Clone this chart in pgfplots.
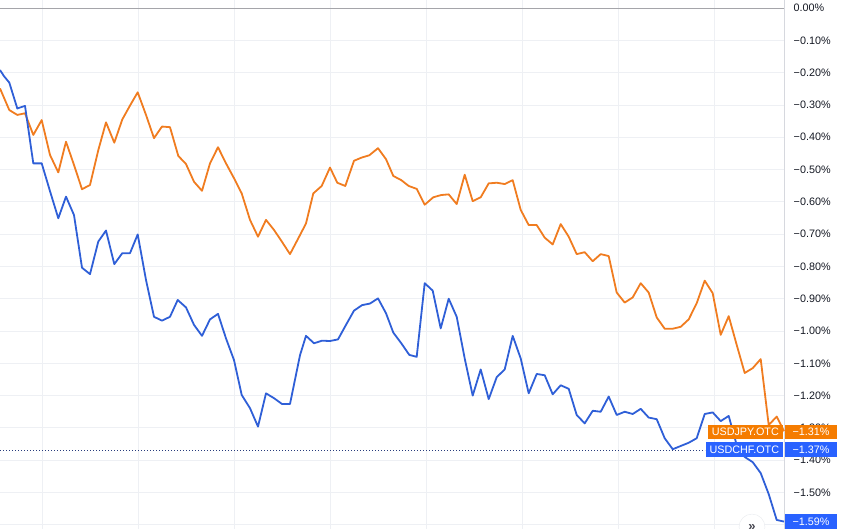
\documentclass[border=0pt]{standalone}
\usepackage{fontspec}
\setmainfont{Liberation Sans}
\usepackage{pgfplots}
\usepackage{pgfplotstable}
\pgfplotsset{compat=1.18}
\definecolor{orangeL}{RGB}{240,124,32}
\definecolor{blueL}{RGB}{47,95,215}
\definecolor{orangeBox}{RGB}{245,124,0}
\definecolor{blueBox}{RGB}{41,98,255}
\definecolor{gridc}{RGB}{238,240,244}
\definecolor{txt}{RGB}{19,23,34}

\pgfplotstableread{
x y
0 -0.249
9.3 -0.316
17.3 -0.331
25 -0.326
33.3 -0.393
41.7 -0.347
50 -0.455
58.3 -0.509
66 -0.414
74 -0.486
82 -0.561
90 -0.548
98.3 -0.440
106 -0.354
114.3 -0.417
122.3 -0.345
130 -0.302
137.7 -0.261
146 -0.331
154 -0.403
162 -0.367
170 -0.369
178.3 -0.458
186 -0.483
194 -0.538
202 -0.566
210 -0.481
218 -0.431
226 -0.481
234 -0.527
241.7 -0.574
250 -0.656
258 -0.708
266 -0.656
274 -0.687
282 -0.724
290 -0.762
300 -0.703
306 -0.667
313.3 -0.574
321.7 -0.551
330 -0.494
337.3 -0.541
345.3 -0.551
354 -0.473
361.7 -0.463
369.3 -0.456
378 -0.434
386 -0.468
393.3 -0.520
401.3 -0.533
408.7 -0.551
416.7 -0.560
424.7 -0.609
433.3 -0.586
441.3 -0.579
448.7 -0.577
456.7 -0.607
464.7 -0.516
472.7 -0.598
480.7 -0.586
488.7 -0.543
496.7 -0.541
504.7 -0.545
512.7 -0.533
520.7 -0.625
528.7 -0.672
536.7 -0.672
544.7 -0.711
552.7 -0.732
560.7 -0.669
568.7 -0.708
576.7 -0.762
584.7 -0.756
592.7 -0.784
600.7 -0.762
608.7 -0.768
616.7 -0.881
624.7 -0.912
632.7 -0.896
640.7 -0.852
648.7 -0.881
656.7 -0.958
664.7 -0.993
672.7 -0.993
680.7 -0.987
688.7 -0.964
696.7 -0.914
704.7 -0.844
712.7 -0.883
720.7 -1.012
728.7 -0.954
736.7 -1.043
744.7 -1.130
752.7 -1.115
760.7 -1.087
768.7 -1.291
776.7 -1.265
784 -1.310
}\jpy

\pgfplotstableread{
x y
0 -0.192
4 -0.211
9.3 -0.231
17.3 -0.311
25 -0.303
33.3 -0.481
41.7 -0.481
50 -0.567
58.3 -0.651
66 -0.584
74 -0.641
82 -0.804
90 -0.824
98.3 -0.723
106 -0.689
114.3 -0.793
122.3 -0.759
130 -0.759
137.7 -0.701
146 -0.842
154 -0.956
162 -0.968
170 -0.956
177.7 -0.904
186 -0.927
194 -0.981
202 -1.015
210 -0.964
218 -0.947
226 -1.023
234 -1.090
241.7 -1.198
250 -1.239
258 -1.296
266 -1.193
274 -1.208
282 -1.226
290 -1.226
300 -1.075
306 -1.015
314 -1.038
322 -1.030
330 -1.031
338 -1.026
346 -0.981
354 -0.937
362 -0.920
370 -0.915
378 -0.899
386 -0.945
393.3 -1.005
401.3 -1.038
409.3 -1.074
416.7 -1.080
424.7 -0.852
432.7 -0.875
440.7 -0.992
448.7 -0.900
456.7 -0.956
464.7 -1.085
472.7 -1.200
480.7 -1.119
488.7 -1.211
496.7 -1.143
504.7 -1.119
512.7 -1.015
520.7 -1.085
528.7 -1.193
536.7 -1.133
544.7 -1.137
552.7 -1.196
560.7 -1.168
568.7 -1.179
576.7 -1.260
584.7 -1.286
592.7 -1.247
600.7 -1.250
608.7 -1.203
616.7 -1.260
624.7 -1.250
632.7 -1.257
640.7 -1.241
648.7 -1.268
656.7 -1.273
664.7 -1.332
672.7 -1.366
680.7 -1.356
688.7 -1.346
696.7 -1.332
704.7 -1.257
712.7 -1.252
720.7 -1.279
728.7 -1.263
736.7 -1.353
744.7 -1.390
752.7 -1.406
760.7 -1.440
768.7 -1.505
776.7 -1.585
784 -1.590
}\chf

\begin{document}
\begin{tikzpicture}[font=\fontsize{10.8}{12.5}\selectfont]
\begin{axis}[
  scale only axis,
  width=784pt, height=529pt,
  xmin=0, xmax=784,
  ymin=-1.6130, ymax=0.0248,
  axis line style={draw=none},
  clip=false,
  grid=major,
  major grid style={color=gridc, line width=0.8pt},
  major tick length=0pt,
  xtick={42.7,138.7,234.7,330.7,426.7,522.7,618.7,714.7},
  xticklabels={},
  ytick={0,-0.1,-0.2,-0.3,-0.4,-0.5,-0.6,-0.7,-0.8,-0.9,-1.0,-1.1,-1.2,-1.3,-1.4,-1.5,-1.6},
  yticklabels={0.00\%,−0.10\%,−0.20\%,−0.30\%,−0.40\%,−0.50\%,−0.60\%,−0.70\%,−0.80\%,−0.90\%,−1.00\%,−1.10\%,−1.20\%,−1.30\%,−1.40\%,−1.50\%,},
  yticklabel pos=right,
  yticklabel style={anchor=west, inner xsep=0pt, xshift=9.5pt, text=txt},
]
\draw[color={rgb,255:red,214;green,216;blue,222}, line width=0.8pt] (rel axis cs:1,0) -- (rel axis cs:1,1);
\draw[color={rgb,255:red,165;green,165;blue,170}, line width=0.9pt] (axis cs:0,0) -- (axis cs:784,0);
\addplot[color={rgb,255:red,40;green,60;blue,125}, line width=0.9pt, dash pattern=on 1pt off 2pt] coordinates {(0,-1.37) (705,-1.37)};
\addplot[orangeL, line width=1.8pt, line join=round] table[x=x,y=y] {\jpy};
\addplot[blueL, line width=1.8pt, line join=round] table[x=x,y=y] {\chf};
% labels
\node[anchor=east, fill=orangeBox, text=white, minimum height=14.5pt, inner xsep=4pt, inner ysep=0pt] at (axis cs:783,-1.3127) {USDJPY.OTC};
\node[anchor=west, fill=orangeBox, text=white, minimum height=14.5pt, minimum width=51.7pt, inner xsep=2pt, inner ysep=0pt] at (axis cs:785,-1.3127) {−1.31\%};
\node[anchor=east, fill=blueBox, text=white, minimum height=15.5pt, inner xsep=4pt, inner ysep=0pt] at (axis cs:783.3,-1.3669) {USDCHF.OTC};
\node[anchor=west, fill=blueBox, text=white, minimum height=15.5pt, minimum width=51.7pt, inner xsep=2pt, inner ysep=0pt] at (axis cs:785,-1.3669) {−1.37\%};
\node[anchor=west, fill=blueBox, text=white, minimum height=15.5pt, minimum width=51.7pt, inner xsep=2pt, inner ysep=0pt] at (axis cs:785,-1.590) {−1.59\%};
\node[circle, fill=white, draw={rgb,255:red,232;green,234;blue,238}, inner sep=0pt, minimum size=26pt, text={rgb,255:red,70;green,70;blue,80}, font=\fontsize{13}{13}\selectfont\bfseries] at (axis cs:752,-1.607) {»};
\end{axis}
\pgfresetboundingbox
\path[use as bounding box] (current axis.south west) rectangle ++(846pt,529pt);
\end{tikzpicture}
\end{document}
